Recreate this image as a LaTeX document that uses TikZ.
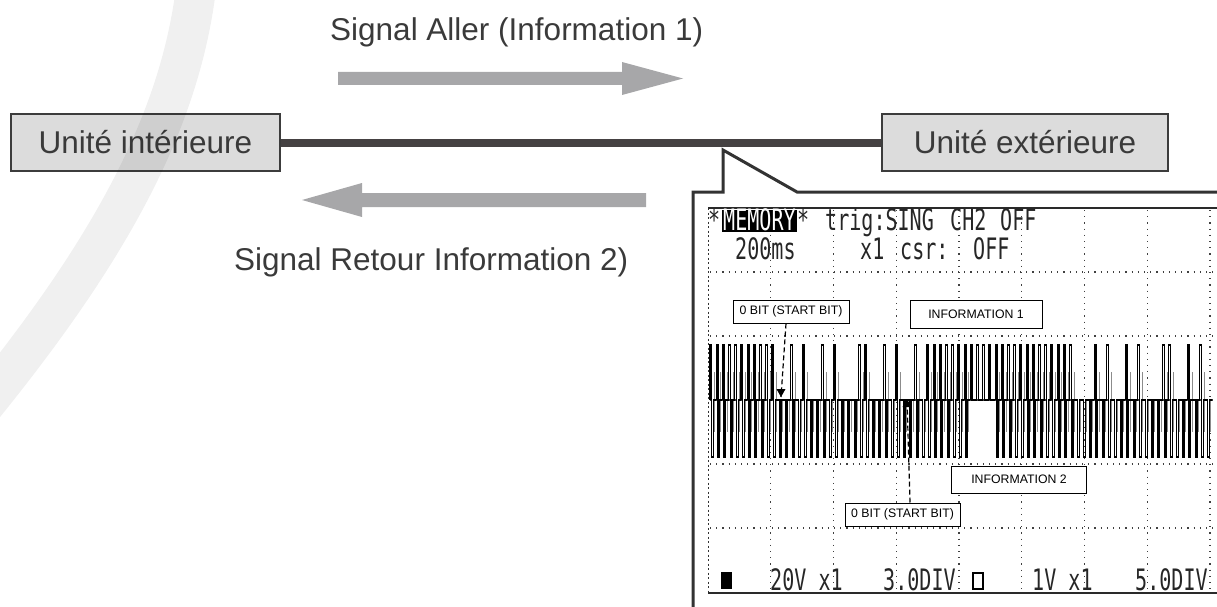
\documentclass[tikz,border=0pt]{standalone}
\usepackage{fontspec}
\setmainfont{Liberation Sans}
\newfontfamily\lcdfont[FakeStretch=0.68]{DejaVu Sans Mono}
\definecolor{txtc}{HTML}{3A3A3A}
\definecolor{boxfill}{HTML}{DCDCDC}
\definecolor{boxline}{HTML}{3C3C3C}
\definecolor{linec}{HTML}{454142}
\definecolor{arrc}{HTML}{A7A7A9}
\definecolor{calc}{HTML}{333333}
\definecolor{scrc}{HTML}{2A2A2A}
\begin{document}
\begin{tikzpicture}[x=1pt,y=-1pt,
  lbl/.style={font=\fontsize{31.5}{36}\selectfont, text=txtc, inner sep=0pt},
  unitbox/.style={draw=boxline, line width=2.6pt, fill=boxfill, minimum height=57pt,
     text height=22.6pt, text depth=0pt, inner sep=0pt,
     font=\fontsize{31.5}{36}\selectfont, text=txtc},
  gridl/.style={draw=black!75, line width=1.1pt, dash pattern=on 1.2pt off 5pt},
  lcd/.style={font=\lcdfont\fontsize{29.5}{30}\selectfont, anchor=base west, inner sep=0pt, text=black!85},
  tag/.style={draw=black, line width=1pt, inner sep=0pt, fill=white,
     font=\fontsize{12.3}{13}\selectfont, text=black},
  wave/.style={draw=black, line width=1.3pt, line join=miter},
  wave2/.style={draw=black!45, line width=0.9pt},
  ]
\useasboundingbox (0,0) rectangle (1217,607);

% arrows
\fill[arrc] (338,72) -- (622,72) -- (622,62) -- (683,78.5) -- (622,95) -- (622,85) -- (338,85) -- cycle;
\fill[arrc] (646,193) -- (362,193) -- (362,183) -- (302,200) -- (362,217) -- (362,207) -- (646,207) -- cycle;

% labels
\node[lbl, anchor=base west] (t1) at (330,41) {Signal Aller (Information 1)};
\node[lbl, anchor=base west] (t2) at (234,270) {Signal Retour Information 2)};

% units and link
\node[unitbox, minimum width=269pt] (ui) at (145.5,142.5) {Unité intérieure};
\node[unitbox, minimum width=286pt] (ue) at (1025,142.5) {Unité extérieure};
\draw[line width=8pt, draw=linec] (ui.east) -- (ue.west);

% faint watermark (over the box, as in the scan)
\draw[line width=40pt, draw=black, draw opacity=0.06] (197,-20) .. controls (182,120) and (110,250) .. (-20,410);

% callout
\draw[line width=3pt, draw=calc, line join=miter] (693,607) -- (693,192) -- (723,192) -- (723,150) -- (797,192) -- (1217,192);

% screen grid
\foreach \k in {1,...,8} {
  \draw[gridl] ({708+62.75*\k},210) -- ({708+62.75*\k},592);
}
\foreach \k in {1,...,5} {
  \draw[gridl] (710,{208+64*\k}) -- (1217,{208+64*\k});
}
\draw[draw=black!80, line width=1pt, dash pattern=on 2pt off 2.5pt] (708,208) -- (708,593);
\draw[draw=scrc, line width=1.2pt] (708,208) -- (1217,208);
\draw[draw=scrc, line width=1.6pt] (708,593) -- (1217,593);

% waveform
\foreach \b [count=\k from 0] in {1,1,1,1,1,1,1,1,1,1,1,0,0,1,0,1,0,0,1,0,1,0,0,0,1,1,0,0,1,0,1,0,0,1,0,1,1,1,1,1,1,1,2,2,2,2,1,1,1,1,1,1,1,1,1,1,1,1,1,0,0,0,1,0,1,0,0,1,0,1,0,0,0,1,1,0,0,1,0,1,0} {
  \pgfmathsetmacro{\xx}{710+6.2*\k}
  \ifnum\b=1
    \draw[wave2] ({\xx+4.6},372) -- ++(0,60);
    \draw[wave] (\xx,400) -- ++(0,-55) -- ++(1.7,0) -- ++(0,112) -- ++(1.7,0) -- ++(0,-57) -- ++(2.8,0);
  \fi
  \ifnum\b=0
    \draw[wave2] ({\xx+4.6},400) -- ++(0,32);
    \draw[wave] (\xx,400) -- ++(1.7,0) -- ++(0,57) -- ++(1.7,0) -- ++(0,-57) -- ++(2.8,0);
  \fi
  \ifnum\b=2
    \draw[wave] (\xx,400) -- ++(0,-55) -- ++(1.7,0) -- ++(0,55) -- ++(4.5,0);
  \fi
}

% screen text row 1
\fill[black] (722,210) rectangle (797,232);
\node[lcd] (m0) at (708,230) {*};
\node[lcd, text=white] (m1) at (723,230) {MEMORY};
\node[lcd] (m2) at (797,230) {*};
\node[lcd] (m3) at (825,230) {trig:SING};
\node[lcd] (m4) at (950,230) {CH2};
\node[lcd] (m5) at (1000,230) {OFF};
% row 2
\node[lcd] (r1) at (735,259) {200ms};
\node[lcd] (r2) at (860,259) {x1};
\node[lcd] (r3) at (900,259) {csr:};
\node[lcd] (r4) at (973,259) {OFF};
% bottom row
\fill[black] (721,572) rectangle (732,589);
\node[lcd] (b1) at (770,590) {20V x1};
\node[lcd] (b2) at (883,590) {3.0DIV};
\draw[black, line width=1.2pt] (973,573) rectangle (983,589);
\node[lcd] (b3) at (1032,590) {1V x1};
\node[lcd] (b4) at (1135,590) {5.0DIV};

% tags
\node[tag, minimum width=116pt, minimum height=23pt] (bit1) at (791,311.5) {0 BIT (START BIT)};
\node[tag, minimum width=132pt, minimum height=28pt] (inf1) at (976,314) {INFORMATION 1};
\node[tag, minimum width=135pt, minimum height=27pt] (inf2) at (1019,479.5) {INFORMATION 2};
\node[tag, minimum width=115pt, minimum height=23pt] (bit2) at (902.5,514.5) {0 BIT (START BIT)};

% start bit markers
\coordinate (mk1) at (781,397);
\coordinate (mk2) at (907,399);
\draw[line width=1.2pt, dash pattern=on 5pt off 3pt] ([xshift=-5pt]bit1.south) -- (mk1);
\draw[line width=1.2pt, dash pattern=on 5pt off 3pt] ([xshift=7.5pt]bit2.north) -- (mk2);
\fill[black] (mk1) -- ++(-4.5,-8) -- ++(9,0) -- cycle;
\fill[black] (mk2) -- ++(-4.5,8) -- ++(9,0) -- cycle;
\end{tikzpicture}
\end{document}
